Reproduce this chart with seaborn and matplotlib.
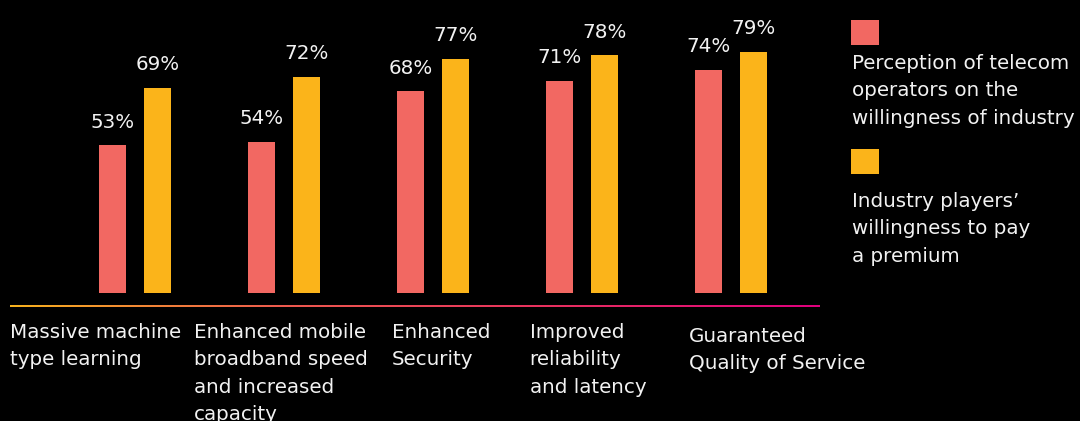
import matplotlib
matplotlib.use("Agg")
import matplotlib.pyplot as plt
import seaborn as sns
import pandas as pd
import numpy as np
from matplotlib.colors import LinearSegmentedColormap
from matplotlib.patches import Rectangle
from matplotlib.transforms import ScaledTranslation

# ---------------- data ----------------
categories = [
    "Massive machine\ntype learning",
    "Enhanced mobile\nbroadband speed\nand increased\ncapacity",
    "Enhanced\nSecurity",
    "Improved\nreliability\nand latency",
    "Guaranteed\nQuality of Service",
]
series_names = [
    "Perception of telecom\noperators on the\nwillingness of industry",
    "Industry players\u2019\nwillingness to pay\na premium",
]
perception = [53, 54, 68, 71, 74]
willingness = [69, 72, 77, 78, 79]

# ---------------- style ----------------
CORAL = "#F26862"
YELLOW = "#FBB41A"
TXT = "#F2F2F2"
FONT = ["DejaVu Sans"]
FS = 14.3
LS = 1.56

sns.set_theme(style="white")
plt.rcParams["font.family"] = FONT

df = pd.DataFrame({
    "category": categories * 2,
    "series": [series_names[0]] * len(categories) + [series_names[1]] * len(categories),
    "value": perception + willingness,
})

W, H = 1080, 421
fig = plt.figure(figsize=(W / 100, H / 100), dpi=100, facecolor="black")
ax = fig.add_axes([10 / W, (H - 293) / H, 810 / W, 293 / H])
ax.set_facecolor("black")

sns.barplot(data=df, x="category", y="value", hue="series",
            palette=[CORAL, YELLOW], width=0.604, gap=0.42,
            saturation=1, legend=False, linewidth=0, ax=ax)

ax.set_xlim(-0.839, 4.597)
ax.set_ylim(12, 93.4)
for s in ax.spines.values():
    s.set_visible(False)
ax.set_xlabel("")
ax.set_ylabel("")
ax.set_yticks([])
ax.tick_params(axis="x", length=0, pad=21.5, labelsize=FS, labelcolor=TXT)

# value labels
for cont in ax.containers:
    ax.bar_label(cont, labels=[f"{v:.0f}%" for v in cont.datavalues],
                 padding=10, color=TXT, fontsize=14.3)

# left-aligned category labels with individual offsets (points)
label_dx = [-90, -64.8, -29.9, -37.8, -30.6]
label_dy = [0, 0, 0, 0, -3]
for lab, dx, dy in zip(ax.get_xticklabels(), label_dx, label_dy):
    lab.set_ha("left")
    lab.set_va("top")
    lab.set_linespacing(LS)
    lab.set_transform(lab.get_transform() + ScaledTranslation(dx / 72, dy / 72, fig.dpi_scale_trans))

# gradient baseline (thin strip)
cmap = LinearSegmentedColormap.from_list("g", ["#F7B21E", "#EE5A4E", "#E8305F", "#E0007E"])
lax = fig.add_axes([10 / W, (H - 307) / H, 810 / W, 2.5 / H])
lax.imshow(np.linspace(0, 1, 512)[None, :], aspect="auto", cmap=cmap, interpolation="bilinear")
lax.set_axis_off()

# legend
legend_items = [(series_names[0], CORAL, 20, 54), (series_names[1], YELLOW, 149, 192)]
for name, col, sq_top, txt_top in legend_items:
    fig.add_artist(Rectangle((851 / W, (H - sq_top - 25) / H), 28 / W, 25 / H,
                             color=col, transform=fig.transFigure, linewidth=0))
    fig.text(852 / W, (H - txt_top) / H, name, color=TXT, fontsize=FS,
             ha="left", va="top", linespacing=LS)

fig.savefig("out.png", dpi=100, facecolor="black")
